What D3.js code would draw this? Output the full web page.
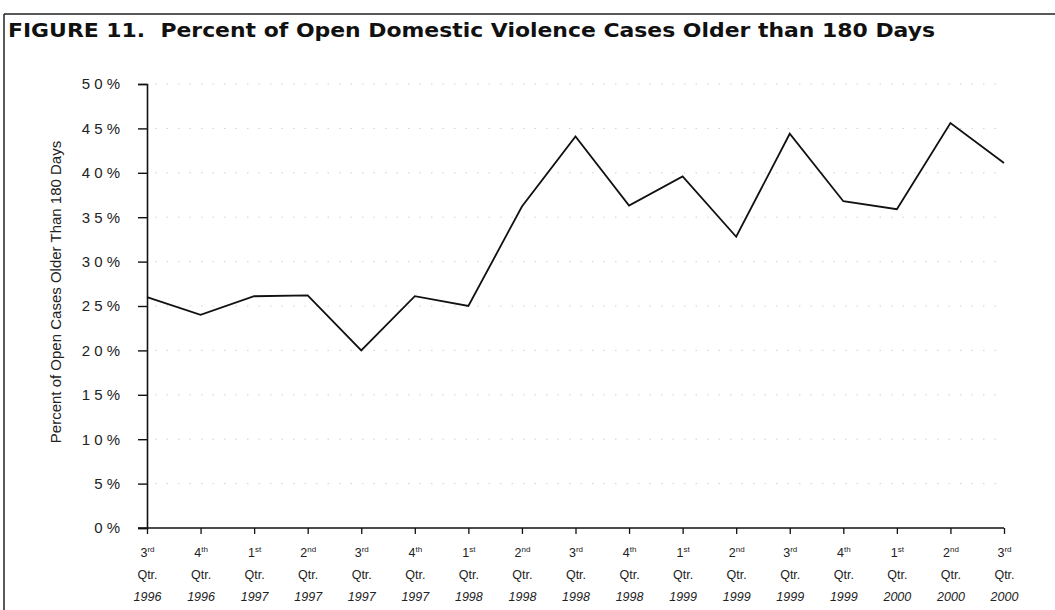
<!DOCTYPE html>
<html><head><meta charset="utf-8">
<script src="https://cdn.jsdelivr.net/npm/d3@7"></script>
<style>body{margin:0;background:#fff;}svg{display:block;font-family:"Liberation Sans",Arial,sans-serif;}</style>
</head><body>
<svg id="c" width="1055" height="610"></svg>
<script>
const quarters = ["3rd","4th","1st","2nd","3rd","4th","1st","2nd","3rd","4th","1st","2nd","3rd","4th","1st","2nd","3rd"];
const years = ["1996","1996","1997","1997","1997","1997","1998","1998","1998","1998","1999","1999","1999","1999","2000","2000","2000"];
const values = [26.0,24.0,26.1,26.2,20.0,26.1,25.0,36.2,44.1,36.3,39.6,32.8,44.4,36.8,35.9,45.6,41.1];
const yTicks = [0,5,10,15,20,25,30,35,40,45,50];

const svg = d3.select("#c");
// frame
svg.append("line").attr("x1",4).attr("x2",1055).attr("y1",14).attr("y2",14).attr("stroke","#222").attr("stroke-width",1.5);
svg.append("line").attr("x1",4).attr("x2",4).attr("y1",14).attr("y2",610).attr("stroke","#222").attr("stroke-width",1.5);
svg.append("text").attr("x",8).attr("y",37).attr("font-size",19).attr("font-weight","bold").attr("fill","#111")
  .attr("font-family","DejaVu Sans, sans-serif")
  .attr("textLength",927).attr("lengthAdjust","spacingAndGlyphs")
  .attr("xml:space","preserve").text("FIGURE 11.  Percent of Open Domestic Violence Cases Older than 180 Days");

const idx = d3.range(values.length);
const x = d3.scalePoint().domain(idx).range([147,1004]);
const y = d3.scaleLinear().domain([0,50]).range([528,84]);

// gridlines
svg.append("g").selectAll("line").data(yTicks.filter(d=>d>0)).join("line")
  .attr("x1",155).attr("x2",1000).attr("y1",d=>y(d)).attr("y2",d=>y(d))
  .attr("stroke","#c4c4c4").attr("stroke-width",0.8).attr("stroke-dasharray","1.5 10");

// y axis
const ya = svg.append("g").attr("transform","translate(147,0)")
  .call(d3.axisLeft(y).tickValues(yTicks).tickSize(9).tickFormat(d=>String(d).split("").join(" ")+" %"));
ya.select(".domain").attr("stroke","#111").attr("stroke-width",1.6);
ya.selectAll(".tick line").attr("stroke","#111").attr("stroke-width",1.4);
ya.selectAll(".tick text").attr("font-size",15).attr("fill","#222").attr("x",-27).attr("font-family","Liberation Sans, Arial, sans-serif");

// x axis
const xa = svg.append("g").attr("transform","translate(0,528)")
  .call(d3.axisBottom(x).tickSizeOuter(0).tickSize(6).tickFormat(""));
xa.select(".domain").attr("stroke","#111").attr("stroke-width",1.6).attr("d","M138,0H1004");
xa.selectAll(".tick line").attr("stroke","#111").attr("stroke-width",1.3);
xa.selectAll(".tick").each(function(d){
  const g = d3.select(this);
  const q = quarters[d];
  const t = g.append("text").attr("y",29).attr("text-anchor","middle").attr("font-size",12.5).attr("fill","#222");
  t.append("tspan").text(q[0]);
  t.append("tspan").attr("font-size",8).attr("dy",-5).text(q.slice(1));
  g.append("text").attr("y",51).attr("text-anchor","middle").attr("font-size",12.5).attr("fill","#222").text("Qtr.");
  g.append("text").attr("y",73).attr("text-anchor","middle").attr("font-size",12.5).attr("fill","#222").attr("font-style","italic").text(years[d]);
});

// y label
svg.append("text").attr("transform","translate(61,292) rotate(-90)").attr("text-anchor","middle")
  .attr("font-size",15).attr("fill","#222")
  .text("Percent of Open Cases Older Than 180 Days");

// line
svg.append("path").datum(values).attr("fill","none").attr("stroke","#111").attr("stroke-width",1.8)
  .attr("stroke-linejoin","miter")
  .attr("d", d3.line().x((d,i)=>x(i)).y(d=>y(d)));
</script>
</body></html>
